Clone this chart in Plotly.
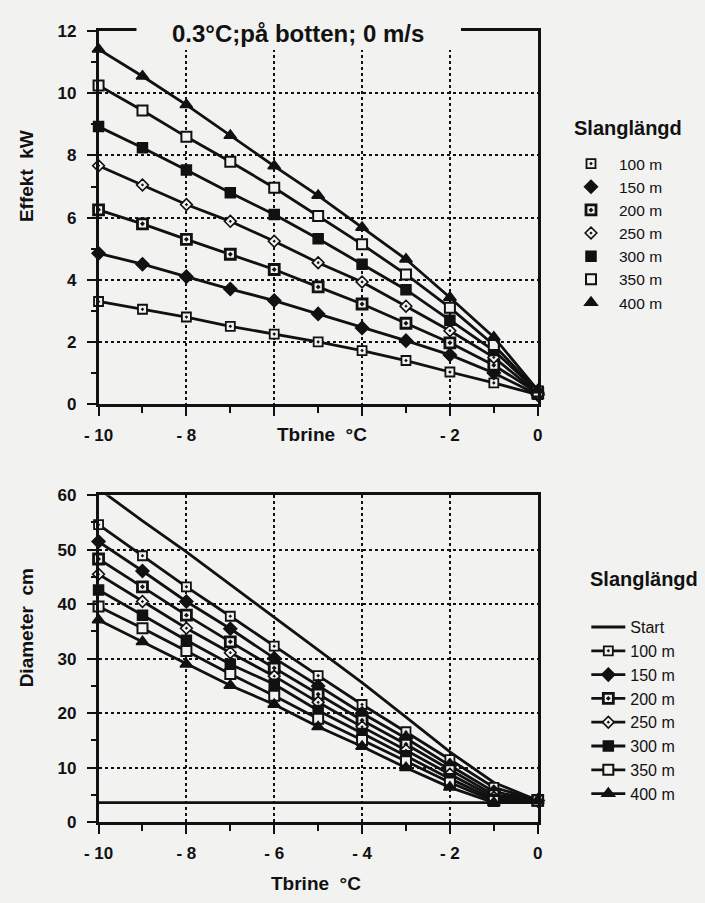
import plotly.graph_objects as go

# Brine temperature (°C)
tbrine = [-10, -9, -8, -7, -6, -5, -4, -3, -2, -1, 0]

# Heat output (kW) per hose length
effekt_100 = [3.30, 3.05, 2.80, 2.50, 2.25, 2.00, 1.72, 1.40, 1.03, 0.68, 0.30]
effekt_150 = [4.85, 4.50, 4.10, 3.70, 3.33, 2.90, 2.45, 2.04, 1.58, 1.00, 0.30]
effekt_200 = [6.25, 5.80, 5.30, 4.82, 4.33, 3.77, 3.22, 2.60, 1.97, 1.25, 0.35]
effekt_250 = [7.67, 7.05, 6.42, 5.88, 5.24, 4.55, 3.93, 3.15, 2.36, 1.50, 0.35]
effekt_300 = [8.93, 8.25, 7.53, 6.80, 6.10, 5.32, 4.50, 3.68, 2.70, 1.72, 0.40]
effekt_350 = [10.25, 9.45, 8.60, 7.80, 6.96, 6.05, 5.14, 4.17, 3.10, 1.90, 0.40]
effekt_400 = [11.42, 10.55, 9.63, 8.64, 7.66, 6.71, 5.68, 4.66, 3.43, 2.15, 0.45]

# Ice diameter (cm): at hose start and per hose length
diam_start = [61.2, 55.3, 49.6, 43.6, 37.6, 31.6, 25.6, 19.3, 12.9, 7.3, 4.0]
diam_100 = [54.6, 48.9, 43.2, 37.8, 32.3, 26.9, 21.6, 16.6, 11.5, 6.4, 4.0]
diam_150 = [51.5, 46.1, 40.5, 35.5, 30.1, 25.0, 20.0, 15.4, 10.4, 5.6, 4.0]
diam_200 = [48.3, 43.2, 38.0, 33.1, 28.3, 23.5, 18.7, 14.3, 9.6, 5.0, 4.0]
diam_250 = [45.5, 40.5, 35.6, 31.1, 26.8, 22.0, 17.5, 13.2, 8.8, 4.6, 4.0]
diam_300 = [42.6, 38.0, 33.4, 29.0, 25.3, 20.5, 16.3, 12.2, 8.0, 4.2, 4.0]
diam_350 = [39.6, 35.6, 31.4, 27.2, 23.2, 19.0, 15.1, 11.2, 7.3, 3.9, 4.0]
diam_400 = [37.1, 33.1, 29.0, 25.1, 21.6, 17.5, 13.9, 10.0, 6.4, 3.6, 4.0]
pipe_diam = [3.6] * len(tbrine)

lengths = ["100 m", "150 m", "200 m", "250 m", "300 m", "350 m", "400 m"]
effekt_series = [effekt_100, effekt_150, effekt_200, effekt_250, effekt_300, effekt_350, effekt_400]
diam_series = [diam_100, diam_150, diam_200, diam_250, diam_300, diam_350, diam_400]

x_ticks = [-10, -8, -6, -4, -2, 0]
x_text_top = ["- 10", "- 8", "", "", "- 2", "0"]
x_text_bottom = ["- 10", "- 8", "- 6", "- 4", "- 2", "0"]

BG = "#f2f2f1"
INK = "#111111"
FONT = "Liberation Sans, Arial, sans-serif"
W, H = 705, 903
LW = 2.8

# symbol, fill, outline width, size
styles = [
    ("square-dot", BG, 1.8, 9),
    ("diamond", INK, 1.5, 10),
    ("square-dot", BG, 2.8, 10),
    ("diamond-dot", BG, 1.6, 9),
    ("square", INK, 1.5, 10),
    ("square", BG, 2.0, 10),
    ("triangle-up", INK, 1.5, 11),
]

fig = go.Figure()

# Upper panel: output
for name, ys, (sym, fill, lw, sz) in zip(lengths, effekt_series, styles):
    fig.add_trace(go.Scatter(
        x=tbrine, y=ys, mode="lines+markers", name=name, showlegend=False,
        line=dict(color=INK, width=LW),
        marker=dict(symbol=sym, color=fill, size=sz, line=dict(color=INK, width=lw)),
        cliponaxis=False, xaxis="x", yaxis="y",
    ))
    # marker-only key for the upper legend
    fig.add_trace(go.Scatter(
        x=[None], y=[None], mode="markers", name=name, legend="legend",
        marker=dict(symbol=sym, color=fill, size=sz, line=dict(color=INK, width=lw)),
        xaxis="x", yaxis="y",
    ))

# Lower panel: diameter
fig.add_trace(go.Scatter(
    x=tbrine, y=pipe_diam, mode="lines", showlegend=False,
    line=dict(color=INK, width=LW), xaxis="x2", yaxis="y2",
))
fig.add_trace(go.Scatter(
    x=tbrine, y=diam_start, mode="lines", name="Start", legend="legend2",
    line=dict(color=INK, width=LW), xaxis="x2", yaxis="y2",
))
for name, ys, (sym, fill, lw, sz) in zip(lengths, diam_series, styles):
    fig.add_trace(go.Scatter(
        x=tbrine, y=ys, mode="lines+markers", name=name, legend="legend2",
        line=dict(color=INK, width=LW),
        marker=dict(symbol=sym, color=fill, size=sz, line=dict(color=INK, width=lw)),
        cliponaxis=False, xaxis="x2", yaxis="y2",
    ))

tickfont = dict(family=FONT, size=17, color=INK, weight="bold")


def xaxis(domain_anchor, ticktext):
    return dict(
        domain=[86 / W, 538 / W], anchor=domain_anchor, range=[-10, 0],
        tickvals=x_ticks, ticktext=ticktext, tickfont=tickfont,
        ticks="outside", ticklen=9, tickwidth=2, tickcolor=INK, ticklabelstandoff=5,
        showline=True, linewidth=2.5, linecolor=INK, mirror=True,
        showgrid=True, gridcolor=INK, gridwidth=1.5, griddash="dot", zeroline=False,
        minor=dict(dtick=1, ticks="outside", ticklen=6, tickwidth=2, tickcolor=INK, showgrid=False),
    )


def yaxis(domain_px, anchor, rng, dtick, minor_dtick):
    top, bottom = domain_px
    return dict(
        domain=[1 - bottom / H, 1 - top / H], anchor=anchor, range=rng, dtick=dtick,
        tickfont=tickfont, ticks="outside", ticklen=9, tickwidth=2, tickcolor=INK,
        ticklabelstandoff=7,
        showline=True, linewidth=2.5, linecolor=INK, mirror=True,
        showgrid=True, gridcolor=INK, gridwidth=1.5, griddash="dot", zeroline=False,
        minor=dict(dtick=minor_dtick, ticks="outside", ticklen=5, tickwidth=2, tickcolor=INK, showgrid=False),
    )


def ann(text, x, y, size=19, angle=0, xanchor="center"):
    return dict(
        text=text, x=x / W, y=1 - y / H, xref="paper", yref="paper", showarrow=False,
        textangle=angle, xanchor=xanchor, yanchor="middle",
        font=dict(family=FONT, size=size, color=INK, weight="bold"),
    )


legend_common = dict(
    xanchor="left", yanchor="top", bgcolor="rgba(0,0,0,0)", borderwidth=0,
    itemclick=False, itemdoubleclick=False, tracegroupgap=0,
)

fig.update_layout(
    width=W, height=H, margin=dict(l=0, r=0, t=0, b=0),
    paper_bgcolor=BG, plot_bgcolor=BG,
    xaxis=xaxis("y", x_text_top),
    yaxis=yaxis((22.7, 403.5), "x", [0, 12], 2, 1),
    xaxis2=xaxis("y2", x_text_bottom),
    yaxis2=yaxis((496.7, 830.7), "x2", [0, 60], 10, 5),
    legend=dict(x=564 / W, y=1 - 141 / H, itemwidth=46,
                font=dict(family=FONT, size=15.5, color=INK), **legend_common),
    legend2=dict(x=588 / W, y=1 - 614 / H, itemwidth=34,
                 font=dict(family=FONT, size=16, color=INK), **legend_common),
    shapes=[
        # box behind the heading, interrupting the frame and grid
        dict(type="rect", xref="paper", yref="paper", layer="above",
             x0=125 / W, x1=459 / W, y0=1 - 42 / H, y1=1.0,
             fillcolor=BG, line=dict(width=0)),
    ],
    annotations=[
        ann("0.3°C;på botten; 0 m/s", 291.5, 25, size=24),
        ann("Effekt\u00a0 kW", 12, 171, angle=-90),
        ann("Tbrine\u00a0 °C", 316, 435),
        ann("Diameter\u00a0 cm", 12, 632, angle=-90),
        ann("Tbrine\u00a0 °C", 310, 893),
        ann("Slanglängd", 573, 122, size=20, xanchor="left"),
        ann("Slanglängd", 590, 582, size=20, xanchor="left"),
    ],
)

fig.write_html("out.html")
